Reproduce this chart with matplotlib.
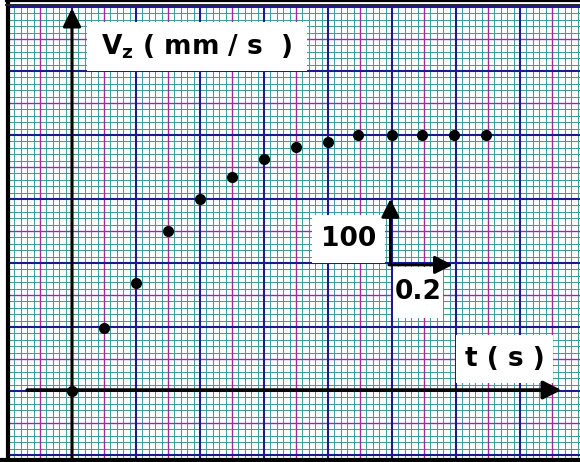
import matplotlib.pyplot as plt
import numpy as np
from matplotlib.lines import Line2D

# data
t_s = [0, 0.1, 0.2, 0.3, 0.4, 0.5, 0.6, 0.7, 0.8, 0.895, 1.0, 1.095, 1.195, 1.295]
vz = [0, 98, 168, 250, 300, 334, 362, 381, 389, 400, 400, 400, 400, 400]

teal = '#3f9f9f'
magenta = '#a02aa4'
navy = '#1a1a95'

fig = plt.figure(figsize=(5.8, 4.62), dpi=100)
ax = fig.add_axes([0, 0, 1, 1])
ax.set_xlim(-0.225, 1.5875)
ax.set_ylim(-110.9, 610.9)
ax.axis('off')

t_lo, t_hi = -0.194, 1.6
v_lo, v_hi = -111, 600

# graph paper: fine teal, magenta every 5, navy every 10
ticks_t = np.round(np.arange(-0.2, 1.62, 0.02), 2)
ticks_v = np.arange(-100, 601, 10)
for tt in ticks_t:
    if tt < t_lo:
        continue
    k = int(round(tt / 0.02))
    if k % 10 == 0:
        continue
    if k % 5 == 0:
        ax.plot([tt, tt], [v_lo, v_hi], color=magenta, lw=1.0, zorder=2)
    else:
        ax.plot([tt, tt], [v_lo, v_hi], color=teal, lw=0.75, zorder=1)
for vv in ticks_v:
    k = int(round(vv / 10))
    if k % 10 == 0:
        continue
    if k % 5 == 0:
        ax.plot([t_lo, t_hi], [vv, vv], color=magenta, lw=1.0, zorder=2)
    else:
        ax.plot([t_lo, t_hi], [vv, vv], color=teal, lw=0.75, zorder=1)
for tt in ticks_t:
    k = int(round(tt / 0.02))
    if k % 10 == 0 and tt >= t_lo:
        ax.plot([tt, tt], [v_lo, v_hi], color=navy, lw=1.5, zorder=3)
for vv in ticks_v:
    if vv % 100 == 0:
        ax.plot([t_lo, t_hi], [vv, vv], color=navy, lw=1.5, zorder=3)

# frame
fig.add_artist(Line2D([7.5 / 580, 7.5 / 580], [0, 1 - 2 / 462], color='black', lw=3.0,
                      transform=fig.transFigure))
fig.add_artist(Line2D([0.0, 1], [2 / 462, 2 / 462], color='black', lw=3.0,
                      transform=fig.transFigure))
fig.add_artist(Line2D([6 / 580, 1], [1 - 1 / 462, 1 - 1 / 462], color='black', lw=1.6,
                      transform=fig.transFigure))
fig.add_artist(Line2D([6 / 580, 1], [1 - 5 / 462, 1 - 5 / 462], color='#222222', lw=1.4,
                      transform=fig.transFigure))

head = '-|>,head_length=1.1,head_width=0.55'

# axes with arrows
ax.annotate('', xy=(1.53, 1.5), xytext=(-0.14, 1.5),
            arrowprops=dict(arrowstyle=head, color='black', lw=2.6,
                            shrinkA=0, shrinkB=0), zorder=6)
ax.annotate('', xy=(0, 598), xytext=(0, -111),
            arrowprops=dict(arrowstyle=head, color='black', lw=2.2,
                            shrinkA=0, shrinkB=0), zorder=6)

# scale arrows
ax.annotate('', xy=(0.995, 300), xytext=(0.995, 197),
            arrowprops=dict(arrowstyle=head, color='black', lw=2.0,
                            shrinkA=0, shrinkB=0), zorder=6)
ax.annotate('', xy=(1.19, 197), xytext=(0.99, 197),
            arrowprops=dict(arrowstyle=head, color='black', lw=2.0,
                            shrinkA=0, shrinkB=0), zorder=6)

# label boxes
def label(x0, x1, y0, y1, s):
    ax.fill_between([x0, x1], y0, y1, color='white', zorder=5, lw=0)
    ax.text((x0 + x1) / 2, (y0 + y1) / 2, s, ha='center', va='center',
            fontsize=19, fontweight='bold', family='DejaVu Sans', zorder=7)

plt.rcParams['mathtext.default'] = 'bf'
label(0.047, 0.734, 500, 577, r'V$_z$ ( mm / s  )')
label(0.75, 0.978, 200, 275, '100')
label(1.003, 1.159, 114, 194, '0.2')
label(1.2, 1.503, 12.5, 87.5, 't ( s )')

ax.plot(t_s, vz, 'o', color='black', markersize=7, zorder=8)

fig.savefig('out.png', dpi=100)
